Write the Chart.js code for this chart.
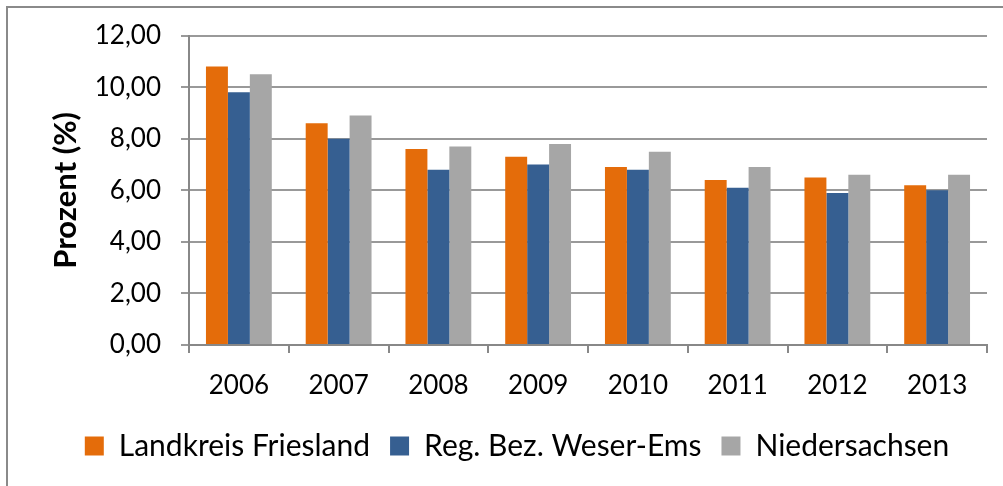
<!DOCTYPE html>
<html>
<head>
<meta charset="utf-8">
<script src="https://cdn.jsdelivr.net/npm/chart.js@4.4.1/dist/chart.umd.min.js"></script>
<style>
    html, body { margin: 0; padding: 0; background: #fff; }
    #wrap { position: relative; width: 1003px; height: 486px; }
    #frame {
        position: absolute; left: 6px; top: 6px; width: 1000px; height: 490px;
        border-top: 2px solid #8a8a8a; border-left: 2px solid #8a8a8a;
        pointer-events: none;
    }
    canvas { position: absolute; left: 0; top: 0; }
</style>
</head>
<body>
<div id="wrap">
    <canvas id="chart" width="1003" height="486"></canvas>
    <div id="frame"></div>
</div>
<script>
const years = ['2006', '2007', '2008', '2009', '2010', '2011', '2012', '2013'];
const friesland = [10.8, 8.6, 7.6, 7.3, 6.9, 6.4, 6.5, 6.2];
const weserEms = [9.8, 8.0, 6.8, 7.0, 6.8, 6.1, 5.9, 6.0];
const niedersachsen = [10.5, 8.9, 7.7, 7.8, 7.5, 6.9, 6.6, 6.6];
const seriesNames = ['Landkreis Friesland', 'Reg. Bez. Weser-Ems', 'Niedersachsen'];
const yTicks = [0, 2, 4, 6, 8, 10, 12];

const font = 'Lato';
const axisColor = '#888888';
const padLeft = 47;

const ctx = document.getElementById('chart').getContext('2d');
new Chart(ctx, {
    type: 'bar',
    data: {
        labels: years,
        datasets: [
            { label: seriesNames[0], data: friesland, backgroundColor: '#E46C0A' },
            { label: seriesNames[1], data: weserEms, backgroundColor: '#365F91' },
            { label: seriesNames[2], data: niedersachsen, backgroundColor: '#A6A6A6' }
        ]
    },
    options: {
        responsive: false,
        animation: false,
        layout: { padding: { left: padLeft, right: 16, top: 29, bottom: 15 } },
        datasets: {
            bar: { barPercentage: 1, categoryPercentage: 0.66 }
        },
        scales: {
            x: {
                afterFit: (scale) => { scale.height = 66; },
                grid: {
                    offset: true,
                    drawOnChartArea: false,
                    color: axisColor,
                    lineWidth: 2,
                    tickLength: 8
                },
                border: { color: axisColor, width: 2 },
                ticks: {
                    color: '#000',
                    padding: 17,
                    font: { family: font, size: 26 }
                }
            },
            y: {
                min: 0,
                max: 12,
                afterFit: (scale) => { scale.width = 189 - padLeft; },
                afterBuildTicks: (scale) => { scale.ticks = yTicks.map(v => ({ value: v })); },
                grid: {
                    color: '#999999',
                    lineWidth: 2,
                    tickLength: 8
                },
                border: { color: axisColor, width: 2 },
                ticks: {
                    color: '#000',
                    padding: 20,
                    font: { family: font, size: 26 },
                    callback: (v) => v.toFixed(2).replace('.', ',')
                },
                title: {
                    display: true,
                    text: 'Prozent (%)',
                    color: '#000',
                    padding: { top: 0, bottom: 0 },
                    font: { family: font, size: 31, weight: 'bold' }
                }
            }
        },
        plugins: {
            legend: {
                position: 'bottom',
                labels: {
                    color: '#000',
                    boxWidth: 19,
                    boxHeight: 19,
                    padding: 20,
                    font: { family: font, size: 30 }
                }
            },
            tooltip: { enabled: false }
        }
    }
});
</script>
</body>
</html>
